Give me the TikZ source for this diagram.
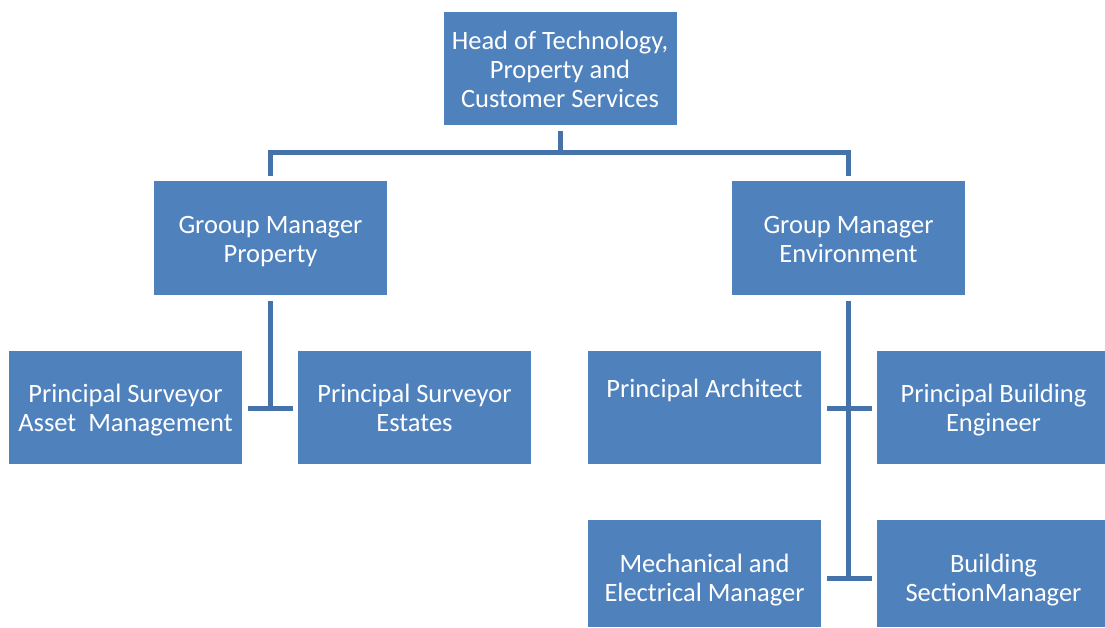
\documentclass[tikz,border=0pt]{standalone}
\usepackage{fontspec}
\setmainfont{Carlito}
\definecolor{boxblue}{HTML}{4F81BD}
\definecolor{connblue}{HTML}{4672AA}
\begin{document}
\begin{tikzpicture}[x=1pt,y=-1pt,
  orgbox/.style={fill=boxblue, draw=none, minimum width=233pt, minimum height=113pt,
    inner sep=0pt},
  boxtext/.style={text=white, align=center, inner sep=0pt, font=\fontsize{26.5}{29}\selectfont},
  conn/.style={draw=connblue, line width=5pt}]
\useasboundingbox (0,0) rectangle (1105,628);
\node[orgbox, label={[boxtext,yshift=-3.8pt]center:{\strut Head of Technology,\\Property and\\Customer Services\strut}}] (head) at (560,68.5) {};
\node[orgbox, minimum height=114pt, label={[boxtext,yshift=-3.8pt]center:{\strut Grooup Manager\\Property\strut}}] (gmp) at (270.5,238) {};
\node[orgbox, minimum height=114pt, label={[boxtext,yshift=-3.8pt]center:{\strut Group Manager\\Environment\strut}}] (gme) at (848.5,238) {};
\node[orgbox, label={[boxtext,yshift=-3.8pt]center:{\strut Principal Surveyor\\Asset\ \ Management\strut}}] (psa) at (125.5,407.5) {};
\node[orgbox, label={[boxtext,yshift=-3.8pt]center:{\strut Principal Surveyor\\Estates\strut}}] (pse) at (414.5,407.5) {};
\node[orgbox, label={[boxtext,yshift=17.5pt]center:{Principal Architect}}] (pa) at (704.5,407.5) {};
\node[orgbox, label={[boxtext,yshift=-3.8pt]center:{\strut Principal Building\\Engineer\strut}}] (pbe) at (993.5,407.5) {};
\node[orgbox, minimum height=107pt, label={[boxtext,yshift=-7.2pt]center:{\strut Mechanical and\\Electrical Manager\strut}}] (mem) at (704.5,573.5) {};
\node[orgbox, minimum height=107pt, label={[boxtext,yshift=-7.2pt]center:{\strut Building\\SectionManager\strut}}] (bsm) at (993.5,573.5) {};
% top bus
\coordinate (bus) at (560,153);
\draw[conn] ([yshift=-6pt]head.south) -- (bus);
\draw[conn] ([yshift=5pt]gmp.north) |- (bus) -| ([yshift=5pt]gme.north);
% property branch
\coordinate (tp) at (270.5,408.5);
\draw[conn] ([yshift=-6pt]gmp.south) -- (tp);
\draw[conn] ([xshift=6pt]psa.east |- tp) -- ([xshift=-5pt]pse.west |- tp);
% environment branch
\coordinate (te1) at (848.5,408.5);
\coordinate (te2) at (848.5,578);
\draw[conn] ([yshift=-6pt]gme.south) -- ([yshift=-2pt]te2);
\draw[conn] ([xshift=6pt]pa.east |- te1) -- ([xshift=-5pt]pbe.west |- te1);
\draw[conn] ([xshift=6pt]mem.east |- te2) -- ([xshift=-5pt]bsm.west |- te2);
\end{tikzpicture}
\end{document}
